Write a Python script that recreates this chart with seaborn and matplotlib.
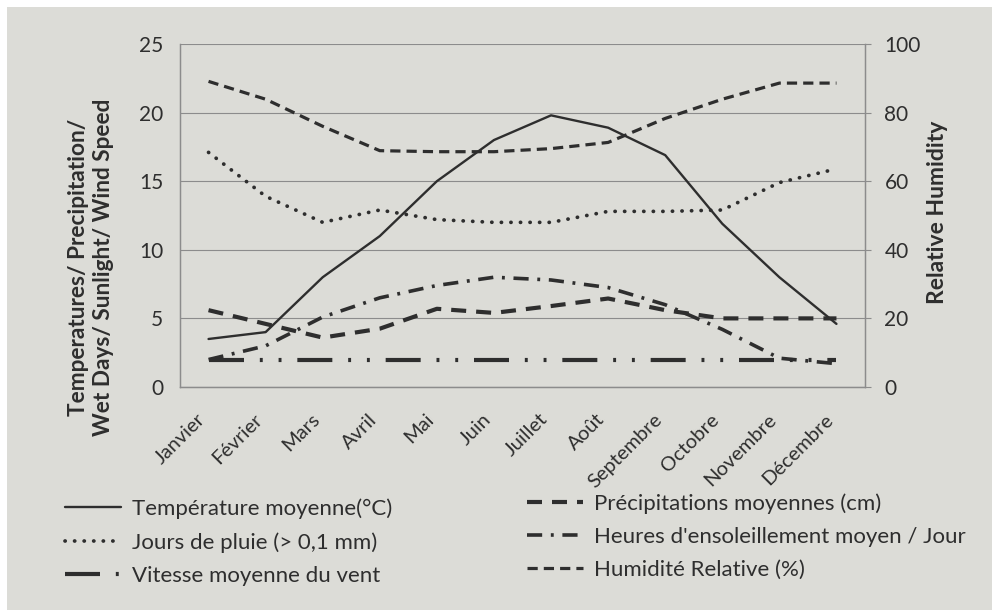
import matplotlib
matplotlib.use("Agg")
import matplotlib.pyplot as plt
import seaborn as sns
import pandas as pd
from matplotlib.patches import Rectangle

# Monthly climate normals
mois = ["Janvier", "Février", "Mars", "Avril", "Mai", "Juin", "Juillet",
        "Août", "Septembre", "Octobre", "Novembre", "Décembre"]
temperature = [3.5, 4.0, 8.0, 11.0, 15.0, 18.0, 19.8, 18.9, 16.9, 11.9, 8.0, 4.6]
jours_pluie = [17.1, 13.9, 12.0, 12.9, 12.2, 12.0, 12.0, 12.8, 12.8, 12.9, 14.9, 15.9]
vent = [2.0, 2.0, 2.0, 2.0, 2.0, 2.0, 2.0, 2.0, 2.0, 2.0, 2.0, 2.0]
precipitations = [5.6, 4.6, 3.6, 4.25, 5.7, 5.4, 5.9, 6.45, 5.6, 5.0, 5.0, 5.0]
ensoleillement = [2.0, 3.0, 5.1, 6.5, 7.4, 8.0, 7.8, 7.25, 6.0, 4.2, 2.1, 1.7]
humidite = [89.1, 83.9, 76.0, 68.9, 68.6, 68.6, 69.5, 71.3, 78.3, 83.9, 88.6, 88.6]

left_ticks = [0, 5, 10, 15, 20, 25]
right_ticks = [0, 20, 40, 60, 80, 100]

df = pd.DataFrame({
    "mois": mois,
    "temperature": temperature,
    "jours_pluie": jours_pluie,
    "vent": vent,
    "precipitations": precipitations,
    "ensoleillement": ensoleillement,
    "humidite": humidite,
})

sns.set_theme(style="white")
FONT = ["Lato", "DejaVu Sans"]
plt.rcParams["font.family"] = FONT
INK = "#2e2e2e"
PAPER = "#dcdcd7"
plt.rcParams["text.color"] = INK
plt.rcParams["axes.labelcolor"] = INK
plt.rcParams["xtick.color"] = INK
plt.rcParams["ytick.color"] = INK

fig = plt.figure(figsize=(9.92, 6.10), dpi=100, facecolor="white")
fig.patches.append(Rectangle((7 / 992, 0), 1, 1 - 7 / 610, transform=fig.transFigure,
                             facecolor=PAPER, edgecolor="none", zorder=-10))

ax = fig.add_axes([180 / 992, 1 - 387 / 610, (865 - 180) / 992, (387 - 44) / 610])
ax.set_facecolor("none")
ax2 = ax.twinx()
ax2.set_facecolor("none")

styles = {
    "temperature": dict(lw=1.7, linestyle="-"),
    "jours_pluie": dict(lw=2.7, linestyle=(0, (0.05, 2.5)), dash_capstyle="round"),
    "vent": dict(lw=3.0, linestyle=(0, (8.4, 3.8, 0.7, 3.8, 0.7, 3.8)), dash_capstyle="butt"),
    "precipitations": dict(lw=3.0, linestyle=(0, (3.6, 2.4)), dash_capstyle="butt"),
    "ensoleillement": dict(lw=2.6, linestyle=(0, (4.2, 2.4, 0.8, 2.4)), dash_capstyle="butt"),
    "humidite": dict(lw=2.3, linestyle=(0, (3.2, 1.9)), dash_capstyle="butt"),
}

handles = {}
for col in ["temperature", "jours_pluie", "vent", "precipitations", "ensoleillement"]:
    n = len(ax.lines)
    sns.lineplot(data=df, x="mois", y=col, ax=ax, sort=False, color=INK, **styles[col])
    handles[col] = ax.lines[n]
n = len(ax2.lines)
sns.lineplot(data=df, x="mois", y="humidite", ax=ax2, sort=False, color=INK, **styles["humidite"])
handles["humidite"] = ax2.lines[n]

ax.set_xlim(-0.5, len(mois) - 0.5)
ax.set_ylim(0, 25)
ax2.set_ylim(0, 100)
ax.set_yticks(left_ticks)
ax2.set_yticks(right_ticks)
ax.set_xlabel("")
ax.set_ylabel("")
ax2.set_ylabel("")

ax.yaxis.grid(True, color="#8c8c8c", lw=0.8)
ax.xaxis.grid(False)
ax2.grid(False)

for a in (ax, ax2):
    for s in a.spines.values():
        s.set_color("#8c8c8c")
        s.set_linewidth(0.9)
ax2.spines["top"].set_visible(False)
ax.spines["top"].set_visible(False)

ax.tick_params(axis="y", length=0, pad=12, labelsize=15)
ax2.tick_params(axis="y", length=4, width=0.8, color="#8c8c8c", pad=10, labelsize=15)
ax.tick_params(axis="x", length=0, pad=17, labelsize=14.5)
for lab in ax.get_xticklabels():
    lab.set_rotation(45)
    lab.set_ha("right")
    lab.set_va("top")

fig.text(91 / 992, 1 - 267 / 610,
         "Temperatures/ Precipitation/\nWet Days/ Sunlight/ Wind Speed",
         rotation=90, ha="center", va="center", fontsize=16.3, fontweight="bold",
         linespacing=1.2)
fig.text(938 / 992, 1 - 212 / 610, "Relative Humidity", rotation=90,
         ha="center", va="center", fontsize=16.5, fontweight="bold")

leg_kw = dict(loc="upper left", frameon=False, borderaxespad=0, borderpad=0,
              fontsize=16, handlelength=2.5, handletextpad=0.5, labelspacing=0.6)
col1 = ["temperature", "jours_pluie", "vent"]
lab1 = ["Température moyenne(°C)", "Jours de pluie (> 0,1 mm)", "Vitesse moyenne du vent"]
col2 = ["precipitations", "ensoleillement", "humidite"]
lab2 = ["Précipitations moyennes (cm)", "Heures d'ensoleillement moyen / Jour",
        "Humidité Relative (%)"]
fig.legend([handles[c] for c in col1], lab1, bbox_to_anchor=(65 / 992, 1 - 498 / 610), **leg_kw)
fig.legend([handles[c] for c in col2], lab2, bbox_to_anchor=(527 / 992, 1 - 493 / 610), **leg_kw)

fig.savefig("out.png", dpi=100, facecolor=fig.get_facecolor())
